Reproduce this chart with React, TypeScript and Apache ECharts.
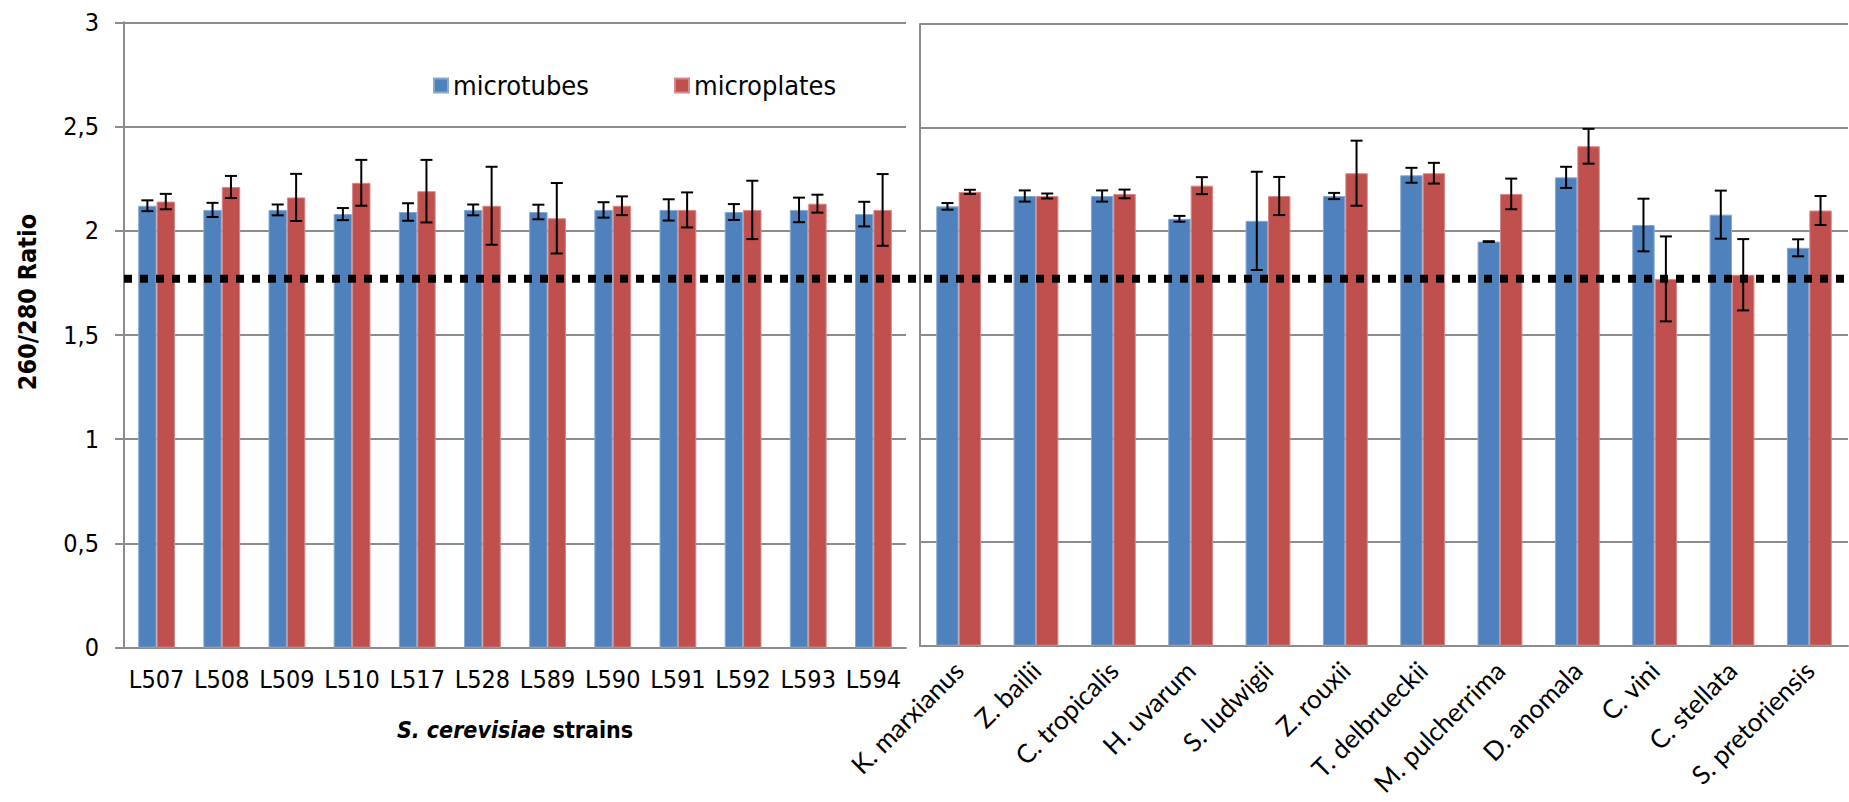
import React, { useEffect, useRef } from "react";
import * as echarts from "echarts";

const leftCategories = ["L507", "L508", "L509", "L510", "L517", "L528", "L589", "L590", "L591", "L592", "L593", "L594"];
const leftTubes = [2.12, 2.10, 2.10, 2.08, 2.09, 2.10, 2.09, 2.10, 2.10, 2.09, 2.10, 2.08];
const leftTubesErr = [0.026, 0.034, 0.026, 0.029, 0.042, 0.026, 0.035, 0.037, 0.051, 0.038, 0.059, 0.059];
const leftPlates = [2.14, 2.21, 2.16, 2.23, 2.19, 2.12, 2.06, 2.12, 2.10, 2.10, 2.13, 2.10];
const leftPlatesErr = [0.037, 0.053, 0.113, 0.110, 0.15, 0.187, 0.169, 0.045, 0.084, 0.14, 0.043, 0.172];

const rightCategories = ["K. marxianus", "Z. bailii", "C. tropicalis", "H. uvarum", "S. ludwigii", "Z. rouxii", "T. delbrueckii", "M. pulcherrima", "D. anomala", "C. vini", "C. stellata", "S. pretoriensis"];
const rightTubes = [2.12, 2.17, 2.17, 2.06, 2.05, 2.17, 2.27, 1.95, 2.26, 2.03, 2.08, 1.92];
const rightTubesErr = [0.016, 0.027, 0.027, 0.014, 0.237, 0.015, 0.036, 0.002, 0.051, 0.127, 0.116, 0.041];
const rightPlates = [2.19, 2.17, 2.18, 2.22, 2.17, 2.28, 2.28, 2.18, 2.41, 1.77, 1.79, 2.10];
const rightPlatesErr = [0.01, 0.012, 0.021, 0.041, 0.092, 0.157, 0.05, 0.074, 0.084, 0.205, 0.172, 0.07];

const threshold = 1.77;
const yTicks = [0, 0.5, 1, 1.5, 2, 2.5, 3];
const yTitle = "260/280 Ratio";

const BLUE = "#4F81BD";
const RED = "#C0504D";
const GRID_GRAY = "#8c8c8c";
const NARROW = '"Liberation Sans Narrow", "DejaVu Sans Condensed", "Arial Narrow", sans-serif';
const ROT_FONT = 'Lato, "Open Sans", sans-serif';

const LEFT_GAP = 0.435;
const RIGHT_GAP = 0.42;

function makeErrRender(sign: number, gapRatio: number) {
  return (params: any, api: any) => {
    const idx = api.value(0);
    const v = api.value(1);
    const e = api.value(2);
    const band = api.size([1, 0])[0];
    const bw = (band * (1 - gapRatio)) / 2;
    const top = api.coord([idx, v + e]);
    const bot = api.coord([idx, v - e]);
    const x = top[0] + (sign * bw) / 2;
    const cap = 6;
    const style = { stroke: "#000", lineWidth: 2 };
    return {
      type: "group",
      children: [
        { type: "line", shape: { x1: x, y1: top[1], x2: x, y2: bot[1] }, style },
        { type: "line", shape: { x1: x - cap, y1: top[1], x2: x + cap, y2: top[1] }, style },
        { type: "line", shape: { x1: x - cap, y1: bot[1], x2: x + cap, y2: bot[1] }, style },
      ],
    };
  };
}

function errData(vals: number[], errs: number[]) {
  return vals.map((v, i) => [i, v, errs[i]]);
}

export default function App() {
  const ref = useRef<HTMLDivElement>(null);
  useEffect(() => {
    document.body.style.margin = "0";
    if (!ref.current) return;
    const chart = echarts.init(ref.current, null, { renderer: "svg" });
    const yLabelFmt = (v: number) => String(v).replace(".", ",");
    const option: any = {
      animation: false,
      backgroundColor: "#fff",
      legend: {
        data: ["microtubes", "microplates"],
        left: 428,
        top: 67,
        itemWidth: 14,
        itemHeight: 14,
        itemGap: 85,
        icon: "rect",
        textStyle: { fontFamily: NARROW, fontSize: 27, color: "#000" },
      },
      graphic: [
        {
          type: "text",
          x: 27,
          y: 302,
          rotation: Math.PI / 2,
          style: {
            text: yTitle,
            fontFamily: NARROW,
            fontSize: 25,
            fontWeight: "bold",
            fill: "#000",
            align: "center",
            verticalAlign: "middle",
          },
        },
      ],
      grid: [
        { left: 124, right: 1849 - 906, top: 22.3, bottom: 802 - 647.7 },
        { left: 920, right: 1, top: 24, bottom: 802 - 645.7 },
        { left: 124, right: 0, top: 22.3, bottom: 802 - 647.7 },
      ],
      xAxis: [
        {
          type: "category",
          gridIndex: 0,
          data: leftCategories,
          axisTick: { show: false },
          axisLine: { show: true, lineStyle: { color: GRID_GRAY, width: 2 } },
          axisLabel: { interval: 0, fontFamily: NARROW, fontSize: 25, color: "#000", margin: 19 },
          name: "{a|S. cerevisiae}{b| strains}",
          nameLocation: "middle",
          nameGap: 71,
          nameTextStyle: {
            rich: {
              a: { fontFamily: NARROW, fontSize: 23, fontWeight: "bold", fontStyle: "italic", color: "#000" },
              b: { fontFamily: NARROW, fontSize: 23, fontWeight: "bold", color: "#000" },
            },
          },
        },
        {
          type: "category",
          gridIndex: 1,
          data: rightCategories,
          axisTick: { show: false },
          axisLine: { show: true, lineStyle: { color: GRID_GRAY, width: 2 } },
          axisLabel: { interval: 0, rotate: 45, fontFamily: ROT_FONT, fontSize: 26, color: "#000", margin: 20 },
        },
        { type: "value", gridIndex: 2, min: 0, max: 1, show: false },
      ],
      yAxis: [
        {
          type: "value",
          gridIndex: 0,
          min: 0,
          max: 3,
          interval: 0.5,
          axisLine: { show: true, lineStyle: { color: GRID_GRAY, width: 2 } },
          axisTick: { show: true, length: 9, lineStyle: { color: GRID_GRAY, width: 2 } },
          splitLine: { show: true, lineStyle: { color: GRID_GRAY, width: 2 } },
          axisLabel: { formatter: yLabelFmt, fontFamily: NARROW, fontSize: 25, color: "#000", margin: 25, customValues: yTicks },
        },
        {
          type: "value",
          gridIndex: 1,
          min: 0,
          max: 3,
          interval: 0.5,
          axisLine: { show: true, lineStyle: { color: GRID_GRAY, width: 2 } },
          axisTick: { show: false },
          splitLine: { show: true, lineStyle: { color: GRID_GRAY, width: 2 } },
          axisLabel: { show: false },
        },
        { type: "value", gridIndex: 2, min: 0, max: 3, show: false },
      ],
      series: [
        {
          name: "microtubes",
          type: "bar",
          xAxisIndex: 0,
          yAxisIndex: 0,
          data: leftTubes,
          barGap: "0%",
          barCategoryGap: LEFT_GAP * 100 + "%",
          itemStyle: { color: BLUE, borderColor: "#8aa9d2", borderWidth: 1 },
          z: 2,
        },
        {
          name: "microplates",
          type: "bar",
          xAxisIndex: 0,
          yAxisIndex: 0,
          data: leftPlates,
          barGap: "0%",
          barCategoryGap: LEFT_GAP * 100 + "%",
          itemStyle: { color: RED, borderColor: "#d48a88", borderWidth: 1 },
          z: 2,
        },
        {
          name: "microtubes",
          type: "bar",
          xAxisIndex: 1,
          yAxisIndex: 1,
          data: rightTubes,
          barGap: "0%",
          barCategoryGap: RIGHT_GAP * 100 + "%",
          itemStyle: { color: BLUE, borderColor: "#8aa9d2", borderWidth: 1 },
          z: 2,
        },
        {
          name: "microplates",
          type: "bar",
          xAxisIndex: 1,
          yAxisIndex: 1,
          data: rightPlates,
          barGap: "0%",
          barCategoryGap: RIGHT_GAP * 100 + "%",
          itemStyle: { color: RED, borderColor: "#d48a88", borderWidth: 1 },
          z: 2,
        },
        {
          type: "line",
          xAxisIndex: 2,
          yAxisIndex: 2,
          data: [[0, threshold], [1, threshold]],
          symbol: "none",
          lineStyle: { color: "#000", width: 8, type: [8, 8], cap: "butt" },
          z: 5,
          silent: true,
        },
        {
          type: "custom",
          xAxisIndex: 0,
          yAxisIndex: 0,
          data: errData(leftTubes, leftTubesErr),
          encode: { x: 0, y: 1 },
          renderItem: makeErrRender(-1, LEFT_GAP),
          z: 10,
          silent: true,
        },
        {
          type: "custom",
          xAxisIndex: 0,
          yAxisIndex: 0,
          data: errData(leftPlates, leftPlatesErr),
          encode: { x: 0, y: 1 },
          renderItem: makeErrRender(1, LEFT_GAP),
          z: 10,
          silent: true,
        },
        {
          type: "custom",
          xAxisIndex: 1,
          yAxisIndex: 1,
          data: errData(rightTubes, rightTubesErr),
          encode: { x: 0, y: 1 },
          renderItem: makeErrRender(-1, RIGHT_GAP),
          z: 10,
          silent: true,
        },
        {
          type: "custom",
          xAxisIndex: 1,
          yAxisIndex: 1,
          data: errData(rightPlates, rightPlatesErr),
          encode: { x: 0, y: 1 },
          renderItem: makeErrRender(1, RIGHT_GAP),
          z: 10,
          silent: true,
        },
      ],
    };
    chart.setOption(option);
    return () => chart.dispose();
  }, []);
  return <div ref={ref} style={{ position: "absolute", left: 0, top: 0, width: 1849, height: 802 }} />;
}
